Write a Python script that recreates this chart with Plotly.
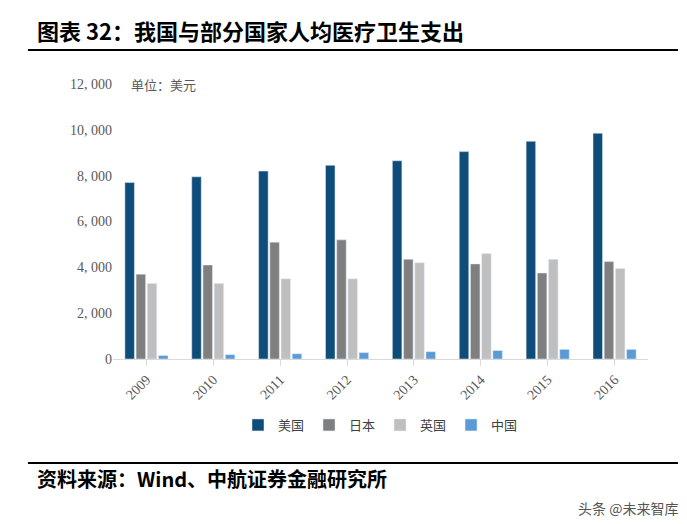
import plotly.graph_objects as go

years = ["2009", "2010", "2011", "2012", "2013", "2014", "2015", "2016"]
usa = [7700, 7950, 8200, 8450, 8650, 9050, 9500, 9850]
japan = [3700, 4100, 5100, 5200, 4350, 4150, 3750, 4250]
uk = [3300, 3300, 3500, 3500, 4200, 4600, 4350, 3950]
china = [150, 190, 230, 280, 320, 370, 420, 420]
tick_vals = [0, 2000, 4000, 6000, 8000, 10000, 12000]
tick_text = ["0", "2, 000", "4, 000", "6, 000", "8, 000", "10, 000", "12, 000"]

fig = go.Figure()
for name, vals, color in [("美国", usa, "#0e4d7a"), ("日本", japan, "#7f7f7f"),
                          ("英国", uk, "#bfbfbf"), ("中国", china, "#5b9bd5")]:
    fig.add_trace(go.Bar(x=years, y=vals, name=name, marker_color=color))

fig.update_layout(
    width=687, height=524,
    paper_bgcolor="white", plot_bgcolor="white",
    margin=dict(l=105, r=47, t=76, b=173),
    barmode="group", bargap=0.33, bargroupgap=0.15,
    font=dict(family="Noto Sans CJK SC", size=12, color="#595959"),
    legend=dict(orientation="h", x=0.5, xanchor="center", y=-0.24, yanchor="middle",
                font=dict(size=13, color="#404040")),
    showlegend=True,
)
fig.update_yaxes(range=[0, 12000], tickvals=tick_vals, ticktext=tick_text,
                 showgrid=False, zeroline=False, showline=False,
                 tickfont=dict(family="Liberation Serif", size=14, color="#595959"))
fig.update_xaxes(tickangle=-45, showline=True, linecolor="#d9d9d9",
                 ticks="outside", tickcolor="#d9d9d9", ticklen=6,
                 tickfont=dict(family="Liberation Serif", size=14, color="#595959"))

fig.add_annotation(text="单位：美元", xref="paper", yref="paper", x=0.03, y=1.0,
                   xanchor="left", yanchor="middle", showarrow=False,
                   font=dict(size=13, color="#595959"))
fig.add_annotation(text="<b>图表 32：我国与部分国家人均医疗卫生支出</b>", xref="paper", yref="paper",
                   x=-0.145, y=1.196, xanchor="left", yanchor="middle", showarrow=False,
                   font=dict(family="Noto Sans CJK SC", size=22, color="black"))
fig.add_annotation(text="<b>资料来源：Wind、中航证券金融研究所</b>", xref="paper", yref="paper",
                   x=-0.145, y=-0.433, xanchor="left", yanchor="middle", showarrow=False,
                   font=dict(family="Noto Sans CJK SC", size=20, color="black"))
fig.add_annotation(text="头条 @未来智库", xref="paper", yref="paper",
                   x=1.06, y=-0.54, xanchor="right", yanchor="middle", showarrow=False,
                   font=dict(size=14, color="#555555"))
fig.add_shape(type="line", xref="paper", yref="paper", x0=-0.159, x1=1.056,
              y0=1.124, y1=1.124, line=dict(color="black", width=2))
fig.add_shape(type="line", xref="paper", yref="paper", x0=-0.159, x1=1.056,
              y0=-0.378, y1=-0.378, line=dict(color="black", width=2))

fig.write_html("out.html")
